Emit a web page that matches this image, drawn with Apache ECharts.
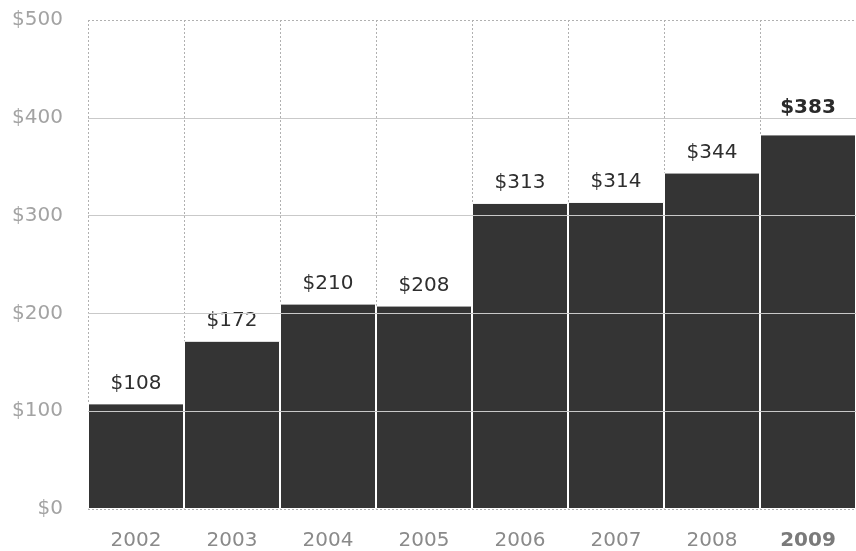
<!DOCTYPE html>
<html>
<head>
<meta charset="utf-8">
<script src="https://cdn.jsdelivr.net/npm/echarts@6/dist/echarts.min.js"></script>
<style>
html,body{margin:0;padding:0;background:#fff;}
#chart{width:856px;height:551px;}
</style>
</head>
<body>
<div id="chart"></div>
<script>
var years = ['2002','2003','2004','2005','2006','2007','2008','2009'];
var values = [108, 172, 210, 208, 313, 314, 344, 383];
var yTicks = [0, 100, 200, 300, 400, 500];

var FONT = '"DejaVu Sans", "Liberation Sans", Arial, sans-serif';
var chart = echarts.init(document.getElementById('chart'), null, {renderer: 'canvas'});
var lastIdx = years.length - 1;

var barData = values.map(function (v, i) {
  return i === lastIdx ? {value: v, label: {distance: 17}} : v;
});

chart.setOption({
  animation: false,
  backgroundColor: '#ffffff',
  grid: {left: 88, top: 20, width: 777, height: 490, containLabel: false},
  xAxis: {
    type: 'category',
    data: years,
    boundaryGap: true,
    axisLine: {show: false},
    axisTick: {show: false},
    splitLine: {show: true, interval: 0, lineStyle: {color: '#b0b0b0', type: [2, 2], width: 1}},
    axisLabel: {
      interval: 0,
      margin: 22,
      fontFamily: FONT,
      fontSize: 20,
      color: '#8a8a8a',
      formatter: function (v, i) { return i === lastIdx ? '{b|' + v + '}' : v; },
      rich: {b: {fontFamily: FONT, fontSize: 20, fontWeight: 'bold', color: '#7a7a7a'}}
    }
  },
  yAxis: {
    type: 'value',
    min: yTicks[0],
    max: yTicks[yTicks.length - 1],
    interval: 100,
    axisLine: {show: false},
    axisTick: {show: false},
    splitLine: {show: true, lineStyle: {color: '#b0b0b0', type: [2, 2], width: 1}},
    axisLabel: {
      margin: 25,
      fontFamily: FONT,
      fontSize: 20,
      color: '#a3a3a3',
      formatter: function (v) { return '$' + v; }
    }
  },
  series: [{
    type: 'bar',
    data: barData,
    barCategoryGap: '0%',
    itemStyle: {color: '#343434', borderColor: '#ffffff', borderWidth: 1},
    label: {
      show: true,
      position: 'top',
      distance: 10,
      fontFamily: FONT,
      fontSize: 20,
      color: '#2e2e2e',
      formatter: function (p) {
        return p.dataIndex === lastIdx ? '{b|$' + p.value + '}' : '$' + p.value;
      },
      rich: {b: {fontFamily: FONT, fontSize: 20, fontWeight: 'bold', color: '#2a2a2a'}}
    },
    markLine: {
      silent: true,
      symbol: ['none', 'none'],
      label: {show: false},
      lineStyle: {color: '#c9c9c9', type: 'solid', width: 1},
      data: [{yAxis: 100}, {yAxis: 200}, {yAxis: 300}, {yAxis: 400}]
    }
  }]
});
</script>
</body>
</html>
